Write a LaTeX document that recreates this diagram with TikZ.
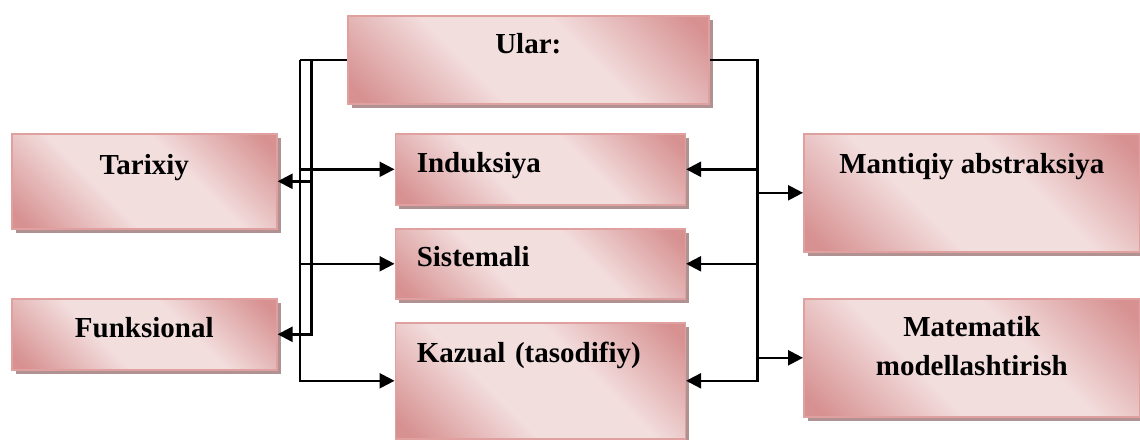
\documentclass[tikz,border=0pt]{standalone}
\usepackage{fontspec}
\setmainfont{Liberation Serif}
\usetikzlibrary{arrows.meta,shadows}
\definecolor{pinkdark}{RGB}{215,145,145}
\definecolor{pinklight}{RGB}{243,222,222}
\definecolor{pinkline}{RGB}{224,160,160}
\definecolor{shadowgray}{RGB}{176,146,147}
\pgfdeclareverticalshading{pinkdiag}{100bp}{color(0bp)=(pinkdark); color(18bp)=(pinkdark); color(40bp)=(pinklight); color(60bp)=(pinklight); color(82bp)=(pinkdark); color(100bp)=(pinkdark)}

\begin{document}
\begin{tikzpicture}[
    x=0.5pt, y=-0.5pt,
    box/.style={rectangle, draw=pinkline, line width=0.8pt, shading=pinkdiag, shading angle=-45, drop shadow={shadow xshift=2pt, shadow yshift=-2pt, fill=shadowgray, opacity=1}, anchor=north west, inner xsep=0pt, inner ysep=0pt, align=center, font=\bfseries\fontsize{14.5pt}{19.5pt}\selectfont},
    leftbox/.style={box, align=left, inner xsep=10.75pt, text width=123.5pt},
    line/.style={line width=1.2pt},
    arrow/.style={-{Triangle[length=7.5pt, width=7.5pt]}, line width=1.2pt}
]
\useasboundingbox (0,0) rectangle (1140,439);

% Top box
\node[box, minimum width=180.5pt, text height=19pt, text depth=25pt] (ular) at (347,15) {Ular:};

% Left column
\node[box, minimum width=132.5pt, text height=20.5pt, text depth=27pt] (tarixiy) at (11,133) {Tarixiy};
\node[box, minimum width=132.5pt, text height=19.5pt, text depth=16pt] (funksional) at (11,298) {Funksional};

% Middle column
\node[leftbox, text height=19.5pt, text depth=16pt] (induksiya) at (394.5,133) {Induksiya};
\node[leftbox, text height=19pt, text depth=16pt] (sistemali) at (394.5,228) {Sistemali};
\node[leftbox, text height=20pt, text depth=38pt] (kazual) at (394.5,322) {Kazual (tasodifiy)};

% Right column
\node[box, minimum width=168pt, text height=20pt, text depth=39pt] (mantiqiy) at (803,133) {Mantiqiy abstraksiya};
\node[box, minimum width=168pt, text height=38.5pt, text depth=20.5pt] (matematik) at (803,298) {Matematik\\modellashtirish};

% Trunks
\coordinate (lo) at ([xshift=-23.5pt]ular.west);
\coordinate (li) at ([xshift=-17.75pt]ular.west);
\coordinate (ro) at ([xshift=24pt]ular.east);

% Arrows on the left
\draw[line] (ular.west) -- (lo);
\draw[arrow] (lo) |- (kazual.west);
\draw[arrow] (lo |- induksiya.west) -- (induksiya.west);
\draw[arrow] (lo |- sistemali.west) -- (sistemali.west);
\draw[arrow] (li) |- (funksional.east);
\draw[arrow] (li |- tarixiy.east) -- (tarixiy.east);

% Arrows on the right
\draw[arrow] (ular.east) -- (ro) |- (kazual.east);
\draw[arrow] (ro |- induksiya.east) -- (induksiya.east);
\draw[arrow] (ro |- sistemali.east) -- (sistemali.east);
\draw[arrow] (ro |- mantiqiy.west) -- (mantiqiy.west);
\draw[arrow] (ro |- matematik.west) -- (matematik.west);

\end{tikzpicture}
\end{document}
